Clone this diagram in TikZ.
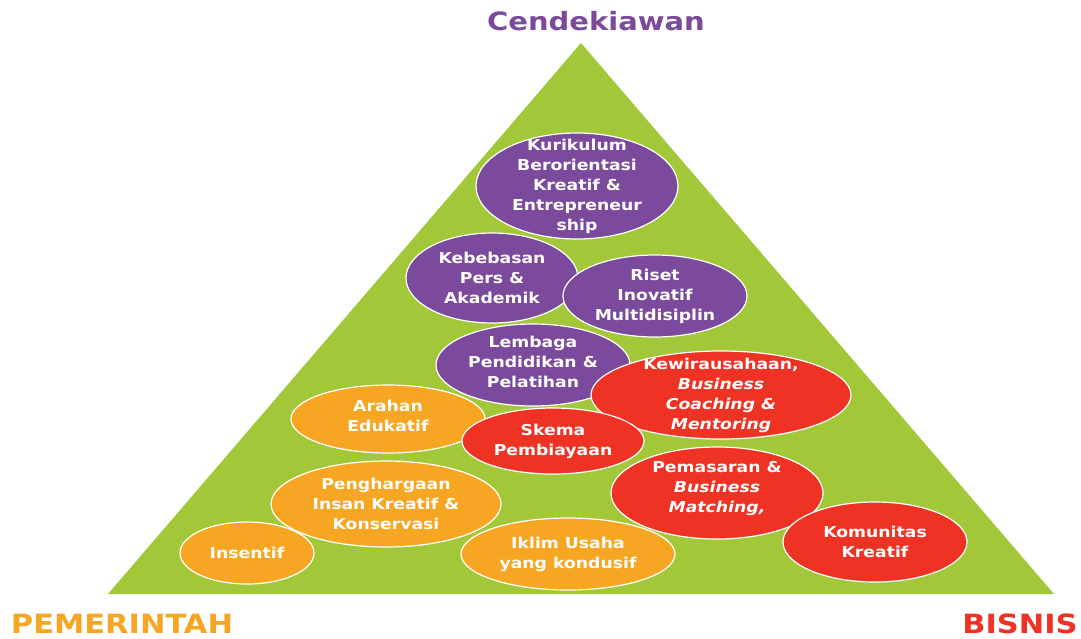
\documentclass[tikz,border=0pt]{standalone}
\usepackage{fontspec}
\setmainfont{DejaVu Sans}[FakeStretch=1.15]
\usepackage{xcolor}
\usepackage{tikz}
\usetikzlibrary{shapes.geometric}
\definecolor{pgreen}{HTML}{A2C83A}
\definecolor{ppurple}{HTML}{7B4A9C}
\definecolor{porange}{HTML}{F6A623}
\definecolor{pred}{HTML}{EE3224}
\tikzset{
    bubble/.style = {ellipse, draw=white, line width=1.2pt, inner sep=0pt},
    btext/.style = {align=center, text=white, font=\bfseries\fontsize{15}{20}\selectfont},
    corner/.style = {font=\bfseries\fontsize{26.5}{30}\selectfont},
}

\begin{document}
\begin{tikzpicture}[x=1pt, y=-1pt]
\useasboundingbox (0,0) rectangle (1081,638);
\fill[white] (0,0) rectangle (1081,638);
% pyramid
\coordinate (top) at (581,43);
\coordinate (bl) at (108,594);
\coordinate (br) at (1054,594);
\fill[pgreen] (top) -- (br) -- (bl) -- cycle;
%
\node[corner, text=ppurple, font=\bfseries\fontsize{25.2}{30}\selectfont] (cend) at (596,21) {Cendekiawan};
\node[corner, text=porange] (pem) at (122,624) {PEMERINTAH};
\node[corner, text=pred] (bis) at (1020,624) {BISNIS};
% purple
\node[bubble, fill=ppurple, minimum width=202, minimum height=106] (kur) at (577,186) {};
\node[btext] at (kur) {Kurikulum\\Berorientasi\\Kreatif \&\\Entrepreneur\\ship};
\node[bubble, fill=ppurple, minimum width=172, minimum height=90] (keb) at (492,278) {};
\node[btext] at (keb) {Kebebasan\\Pers \&\\Akademik};
\node[bubble, fill=ppurple, minimum width=184, minimum height=82] (ris) at (655,296) {};
\node[btext] at (ris) {Riset\\Inovatif\\Multidisiplin};
\node[bubble, fill=ppurple, minimum width=194, minimum height=82] (lem) at (533,365) {};
\node[btext] at (lem.center) [yshift=3] {Lembaga\\Pendidikan \&\\Pelatihan};
% red / orange
\node[bubble, fill=pred, minimum width=260, minimum height=88] (kew) at (721,395) {};
\node[btext] at (kew) {Kewirausahaan,\\\itshape Business\\\itshape Coaching \&\\\itshape Mentoring};
\node[bubble, fill=porange, minimum width=194, minimum height=68] (ara) at (388,419) {};
\node[btext] at (ara.center) [yshift=3] {Arahan\\Edukatif};
\node[bubble, fill=pred, minimum width=182, minimum height=66] (ske) at (553,441) {};
\node[btext] at (ske) {Skema\\Pembiayaan};
\node[bubble, fill=pred, minimum width=212, minimum height=92] (pms) at (717,493) {};
\node[btext] at (pms.center) [yshift=4] {Pemasaran \&\\\itshape Business\\\itshape Matching,};
\node[bubble, fill=porange, minimum width=230, minimum height=86] (pen) at (386,504) {};
\node[btext] at (pen) {Penghargaan\\Insan Kreatif \&\\Konservasi};
\node[bubble, fill=porange, minimum width=134, minimum height=62] (ins) at (247,553) {};
\node[btext] at (ins) {Insentif};
\node[bubble, fill=porange, minimum width=214, minimum height=72] (ikl) at (568,554) {};
\node[btext] at (ikl) {Iklim Usaha\\yang kondusif};
\node[bubble, fill=pred, minimum width=184, minimum height=80] (kom) at (875,542) {};
\node[btext] at (kom) {Komunitas\\Kreatif};
\end{tikzpicture}
\end{document}
